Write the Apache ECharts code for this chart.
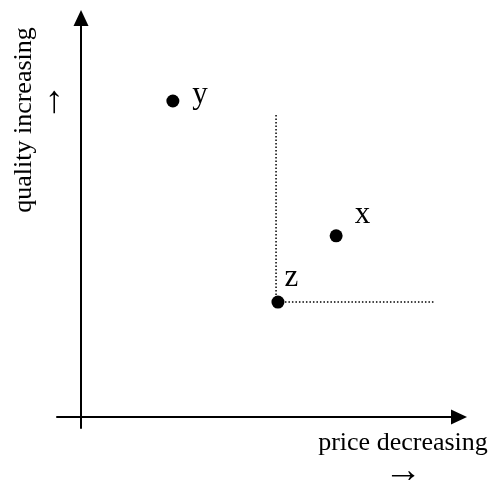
<!DOCTYPE html>
<html>
<head>
<meta charset="utf-8">
<script src="https://cdn.jsdelivr.net/npm/echarts@6/dist/echarts.min.js"></script>
<style>html,body{margin:0;padding:0;background:#fff}#c{width:492px;height:480px}</style>
</head>
<body>
<div id="c"></div>
<script>
const pointNames = ['y', 'x', 'z'];
const pointX = [2.43, 6.75, 5.21];
const pointY = [7.92, 4.54, 2.88];
const guideVertical = [[5.16, 2.88], [5.16, 7.62]];
const guideHorizontal = [[5.21, 2.88], [9.34, 2.88]];
const xAxisTitle = 'price decreasing';
const yAxisTitle = 'quality increasing';
const arrowRight = '→';
const arrowUp = '↑';

const font = '"Liberation Serif", "Times New Roman", serif';
const labelOffsets = { y: [8, -6], x: [7, -21], z: [-5, -24] };

const chart = echarts.init(document.getElementById('c'));
const axisCommon = {
  type: 'value',
  splitLine: { show: false },
  axisTick: { show: false },
  axisLabel: { show: false },
  axisLine: {
    show: true,
    onZero: true,
    symbol: ['none', 'triangle'],
    symbolSize: [15, 16],
    lineStyle: { color: '#000', width: 2 }
  }
};
chart.setOption({
  animation: false,
  grid: { left: 57, right: 33, top: 18, bottom: 52 },
  xAxis: Object.assign({}, axisCommon, { min: -0.635, max: 10 }),
  yAxis: Object.assign({}, axisCommon, { min: -0.276, max: 10 }),
  series: [
    {
      type: 'line', data: guideVertical, symbol: 'none',
      lineStyle: { color: '#000', width: 1.5, type: [1.5, 2] }, z: 1
    },
    {
      type: 'line', data: guideHorizontal, symbol: 'none',
      lineStyle: { color: '#000', width: 1.5, type: [1.5, 2] }, z: 1
    },
    {
      type: 'scatter', symbolSize: 13, z: 3,
      itemStyle: { color: '#000', opacity: 1 },
      data: pointNames.map((n, i) => ({
        name: n, value: [pointX[i], pointY[i]],
        label: { offset: labelOffsets[n] }
      })),
      label: {
        show: true, position: 'right', distance: 5,
        formatter: p => p.name,
        fontFamily: font, fontSize: 31, color: '#000'
      }
    }
  ],
  graphic: [
    {
      type: 'text', x: 24, y: 120, rotation: Math.PI / 2,
      style: {
        text: yAxisTitle,
        font: '26px ' + font, fill: '#000',
        align: 'center', verticalAlign: 'middle'
      }
    },
    {
      type: 'text', x: 54, y: 102,
      style: {
        text: arrowUp, font: '38px ' + font, fill: '#000',
        align: 'center', verticalAlign: 'middle'
      }
    },
    {
      type: 'text', x: 403, y: 443,
      style: {
        text: xAxisTitle, font: '26px ' + font, fill: '#000',
        align: 'center', verticalAlign: 'middle'
      }
    },
    {
      type: 'text', x: 403, y: 472,
      style: {
        text: arrowRight, font: '38px ' + font, fill: '#000',
        align: 'center', verticalAlign: 'middle'
      }
    }
  ]
});
</script>
</body>
</html>
